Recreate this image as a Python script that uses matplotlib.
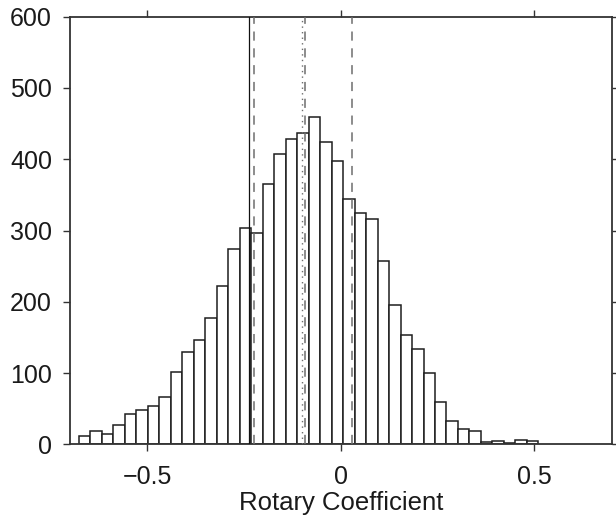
import numpy as np
import matplotlib
matplotlib.use("Agg")
import matplotlib.pyplot as plt

# Histogram data (40 equal bins)
bin_lo = -0.677
bin_hi = 0.5105
counts = [12, 19, 15, 27, 43, 48, 54, 67, 102, 130,
          146, 177, 222, 274, 303, 297, 365, 408, 429, 437,
          459, 424, 397, 344, 324, 316, 257, 196, 153, 134,
          100, 60, 33, 22, 19, 3, 5, 2, 6, 4]

# Reference lines
solid_x = [-0.237]
dashed_x = [-0.225, -0.092, 0.030]
dotted_x = [-0.101]

xticks = [-0.5, 0, 0.5]
xticklabels = ["\u22120.5", "0", "0.5"]
yticks = [0, 100, 200, 300, 400, 500, 600]
xlabel = "Rotary Coefficient"

plt.rcParams['font.family'] = ['Liberation Sans', 'DejaVu Sans']

fig = plt.figure(figsize=(6.16, 5.18), dpi=100)
ax = fig.add_axes([70/616, 1-444.3/518, (611.7-70)/616, (444.3-16.7)/518])

edges = np.linspace(bin_lo, bin_hi, len(counts) + 1)
width = edges[1] - edges[0]
ax.bar(edges[:-1], counts, width=width, align='edge', facecolor='white',
       edgecolor='#1e1e1e', linewidth=1.1, zorder=2)

for x in solid_x:
    ax.axvline(x, color='#111111', linewidth=0.9, zorder=3)
for x in dashed_x:
    ax.axvline(x, color='#6e6e6e', linewidth=1.1, linestyle=(0, (6, 5)), zorder=3)
for x in dotted_x:
    ax.axvline(x, color='#6e6e6e', linewidth=1.0, linestyle=(0, (1, 3)), zorder=3)

ax.set_xlim(-0.7, 0.7)
ax.set_ylim(0, 600)
ax.set_xticks(xticks)
ax.set_xticklabels(xticklabels)
ax.set_yticks(yticks)
ax.tick_params(axis='both', direction='out', length=5, width=1, colors='#333333',
               labelsize=18, labelcolor='#1a1a1a', pad=8,
               top=True, right=True)
ax.tick_params(axis='x', pad=10)
ax.set_xlabel(xlabel, fontsize=18.5, color='#1a1a1a', labelpad=1)
for s in ax.spines.values():
    s.set_color('#333333')
    s.set_linewidth(1.3)

fig.savefig("out.png", dpi=100)
